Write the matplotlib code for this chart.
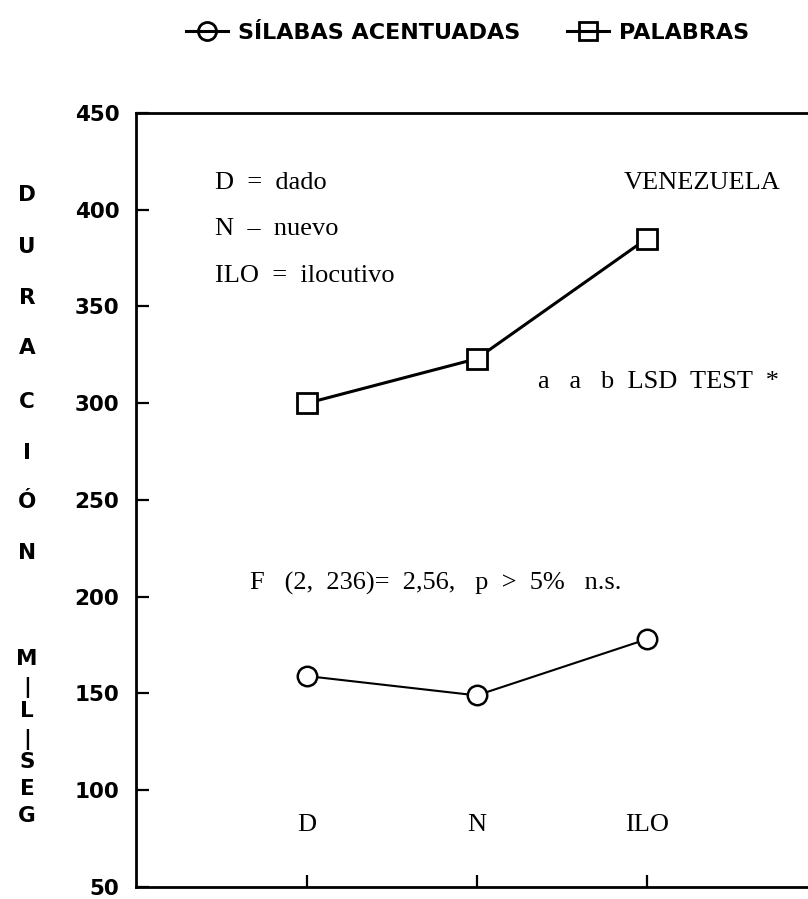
import numpy as np
import matplotlib.pyplot as plt
from matplotlib.lines import Line2D

# duration means (ms) per information type, Venezuela
categories = ["D", "N", "ILO"]
palabras = [300, 323, 385]
silabas = [159, 149, 178]
y_ticks = [50, 100, 150, 200, 250, 300, 350, 400, 450]

sans = "DejaVu Sans"
serif = "Liberation Serif"

fig = plt.figure(figsize=(8.08, 8.99), dpi=100)
ax = fig.add_axes([0.1683, 0.0134, 0.8317, 0.8609])

x = np.arange(1, len(categories) + 1)
ax.plot(x, palabras, color="black", lw=2.2, marker="s", ms=14,
        mfc="white", mec="black", mew=2, zorder=3)
ax.plot(x, silabas, color="black", lw=1.5, marker="o", ms=14,
        mfc="white", mec="black", mew=1.8, zorder=3)

ax.set_ylim(50, 450)
ax.set_xlim(-0.006, 3.95)
ax.set_yticks(y_ticks)
ax.set_yticklabels([str(v) for v in y_ticks], fontfamily=sans,
                   fontweight="bold", fontsize=15.5)
ax.tick_params(axis="y", direction="in", length=9, width=1.6, pad=12)
ax.set_xticks(x)
ax.set_xticklabels([])
ax.tick_params(axis="x", direction="in", length=9, width=1.6)

for s in ["left", "bottom", "top"]:
    ax.spines[s].set_linewidth(2)
ax.spines["right"].set_visible(False)

# category names sit inside the axes above the ticks
for xi, lab in zip(x, categories):
    ax.text(xi, 82, lab, ha="center", va="center", fontfamily=serif,
            fontsize=19)

# annotations
note_kw = dict(fontfamily=serif, fontsize=19, va="center")
ax.text(0.46, 414, "D  =  dado", **note_kw)
ax.text(0.46, 390, "N  \u2013  nuevo", **note_kw)
ax.text(0.46, 366, "ILO  =  ilocutivo", **note_kw)
ax.text(3.79, 414, "VENEZUELA", ha="right", fontfamily=serif, fontsize=19,
        va="center")
ax.text(2.36, 311, "a   a   b  LSD  TEST  *", **note_kw)
ax.text(0.665, 207, "F   (2,  236)=  2,56,   p  >  5%   n.s.", **note_kw)

# stacked vertical axis title
title_top = list("DURACIÓN")
ys_top = [195, 247, 298, 348, 402, 453, 502, 553]
title_bot = ["M", "|", "L", "|", "S", "E", "G"]
ys_bot = [659, 687, 711, 740, 762, 789, 816]
for ch, yy in zip(title_top + title_bot, ys_top + ys_bot):
    fig.text(27 / 808, 1 - yy / 899, ch, ha="center", va="center",
             fontfamily=sans, fontweight="bold", fontsize=15.5)

# legend across the top
handles = [
    Line2D([], [], color="black", lw=2.2, marker="o", ms=13, mfc="none",
           mec="black", mew=2),
    Line2D([], [], color="black", lw=2.2, marker="s", ms=13, mfc="none",
           mec="black", mew=2),
]
fig.legend(handles, ["SÍLABAS ACENTUADAS", "PALABRAS"], loc="center left",
           bbox_to_anchor=(166 / 808, 1 - 33 / 899), ncol=2, frameon=False,
           handlelength=1.9, handletextpad=0.45, columnspacing=2.1,
           prop=dict(family=sans, weight="bold", size=16))

fig.savefig("out.png", dpi=100)
